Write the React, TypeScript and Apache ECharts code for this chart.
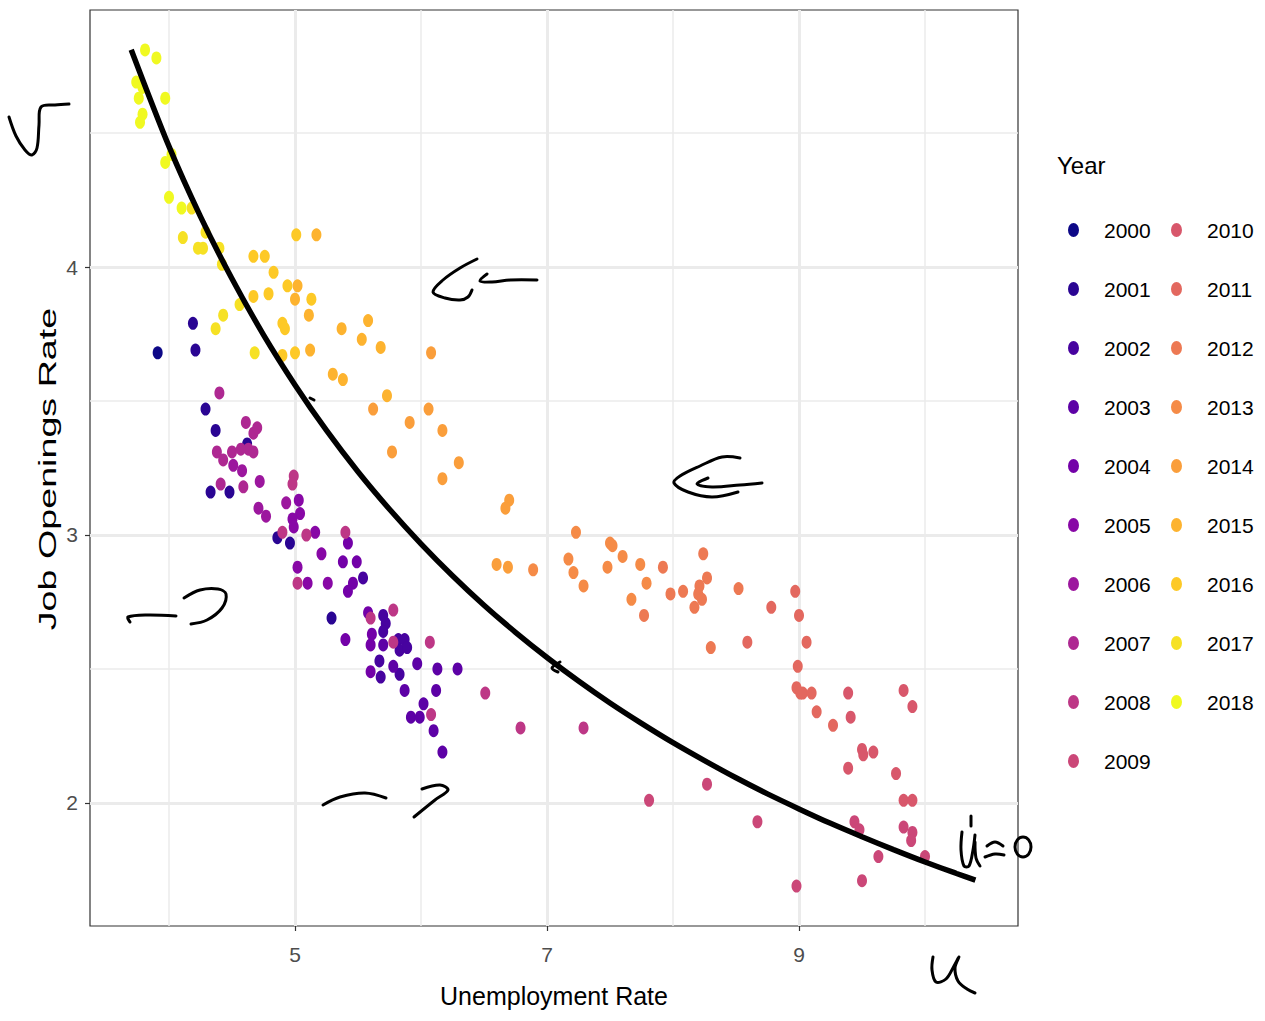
import React, { useEffect, useRef } from "react";
import * as echarts from "echarts";

// ---- data ----
const years = ["2000","2001","2002","2003","2004","2005","2006","2007","2008","2009","2010","2011","2012","2013","2014","2015","2016","2017","2018"];
const yearColors = ["#0D0887","#2A0593","#47039F","#5D01A6","#7301A8","#8808A6","#9C179E","#AE2892","#BD3786","#CB4778","#D8576B","#E3685F","#ED7953","#F58B47","#FA9E3B","#FDB32F","#FDC926","#F6E124","#F0F921"];

const p2000 = [[3.91, 3.68]];
const p2001 = [[4.19,3.79],[4.21,3.69],[4.29,3.47],[4.37,3.39],[4.33,3.16],[4.48,3.16],[4.62,3.34],[4.86,2.99],[4.96,2.97],[5.29,2.69]];
const p2002 = [[5.72,2.67],[5.70,2.64],[5.82,2.61],[5.87,2.61],[5.83,2.57],[5.89,2.58],[5.67,2.53],[5.83,2.48],[5.68,2.47],[5.70,2.70],[5.54,2.84]];
const p2003 = [[5.70,2.59],[5.78,2.51],[5.87,2.42],[5.97,2.52],[6.13,2.50],[6.29,2.50],[6.12,2.42],[6.02,2.37],[5.92,2.32],[5.99,2.32],[6.10,2.27],[6.17,2.19]];
const p2004 = [[5.38,2.90],[5.49,2.90],[5.42,2.97],[5.46,2.82],[5.42,2.79],[5.40,2.61],[5.58,2.71],[5.60,2.59],[5.61,2.63],[5.60,2.49]];
const p2005 = [[5.03,3.13],[5.04,3.08],[4.98,3.06],[4.99,3.03],[5.16,3.01],[5.02,2.88],[5.10,2.82],[5.26,2.82],[5.21,2.93]];
const p2006 = [[4.51,3.26],[4.58,3.24],[4.72,3.20],[4.71,3.10],[4.77,3.07],[4.93,3.12]];
const p2007 = [[4.40,3.53],[4.61,3.42],[4.67,3.38],[4.70,3.40],[4.38,3.31],[4.63,3.32],[4.67,3.31],[4.50,3.31],[4.43,3.28],[4.41,3.19],[4.59,3.18],[4.57,3.32]];
const p2008 = [[4.99,3.22],[4.98,3.19],[4.90,3.01],[5.09,3.00],[5.40,3.01],[5.02,2.82],[5.60,2.69],[5.78,2.72],[5.78,2.60],[6.07,2.60],[6.08,2.33],[6.51,2.41],[6.79,2.28],[7.29,2.28]];
const p2009 = [[7.81,2.01],[8.27,2.07],[8.67,1.93],[8.98,1.69],[9.44,1.93],[9.48,1.90],[9.50,1.71],[9.63,1.80],[9.83,1.91],[9.90,1.89],[9.89,1.86],[10.00,1.80]];
const p2010 = [[9.39,2.41],[9.41,2.32],[9.83,2.42],[9.90,2.36],[9.50,2.20],[9.51,2.18],[9.59,2.19],[9.39,2.13],[9.77,2.11],[9.83,2.01],[9.90,2.01]];
const p2011 = [[8.59,2.60],[8.78,2.73],[8.97,2.79],[9.00,2.70],[9.06,2.60],[8.99,2.51],[8.98,2.43],[9.01,2.41],[9.03,2.41],[9.10,2.41],[9.14,2.34],[9.27,2.29]];
const p2012 = [[7.77,2.70],[7.92,2.88],[7.98,2.78],[8.08,2.79],[8.24,2.93],[8.27,2.84],[8.21,2.81],[8.20,2.78],[8.23,2.76],[8.17,2.73],[8.30,2.58],[8.52,2.80]];
const p2013 = [[6.89,2.87],[7.23,3.01],[7.17,2.91],[7.21,2.86],[7.29,2.81],[7.50,2.97],[7.52,2.96],[7.60,2.92],[7.48,2.88],[7.74,2.89],[7.79,2.82],[7.67,2.76]];
const p2014 = [[5.62,3.47],[6.06,3.47],[6.08,3.68],[5.91,3.42],[6.17,3.39],[5.77,3.31],[6.30,3.27],[6.17,3.21],[6.70,3.13],[6.67,3.10],[6.60,2.89],[6.69,2.88]];
const p2015 = [[5.17,4.12],[5.02,3.93],[5.00,3.88],[5.11,3.82],[5.12,3.69],[5.37,3.77],[5.58,3.80],[5.53,3.73],[5.68,3.70],[5.30,3.60],[5.38,3.58],[5.73,3.52]];
const p2016 = [[4.67,4.04],[4.76,4.04],[4.83,3.98],[4.94,3.93],[4.79,3.90],[4.67,3.89],[4.90,3.79],[4.92,3.77],[4.90,3.67],[5.00,3.68],[5.01,4.12],[5.13,3.88]];
const p2017 = [[4.18,4.22],[4.11,4.11],[4.29,4.13],[4.23,4.07],[4.27,4.07],[4.40,4.07],[4.42,4.01],[4.56,3.86],[4.43,3.82],[4.37,3.77],[4.68,3.68]];
const p2018 = [[3.81,4.81],[3.90,4.78],[3.74,4.69],[3.79,4.67],[3.76,4.63],[3.97,4.63],[3.79,4.57],[3.77,4.54],[4.02,4.42],[3.97,4.39],[4.00,4.26],[4.10,4.22]];
const pointsByYear = [p2000,p2001,p2002,p2003,p2004,p2005,p2006,p2007,p2008,p2009,p2010,p2011,p2012,p2013,p2014,p2015,p2016,p2017,p2018];

// Beveridge curve (u-dot = 0)
const curveU = [3.7, 4.0, 4.25, 4.5, 4.75, 5.0, 5.25, 5.5, 5.75, 6.0, 6.25, 6.5, 6.75, 7.0, 7.25, 7.5, 7.75, 8.0, 8.25, 8.5, 8.75, 9.0, 9.25, 9.5, 9.75, 10.0, 10.25, 10.4];
const curveV = [4.811, 4.450, 4.188, 3.956, 3.747, 3.560, 3.390, 3.236, 3.096, 2.967, 2.848, 2.738, 2.637, 2.543, 2.455, 2.373, 2.297, 2.225, 2.158, 2.094, 2.034, 1.978, 1.924, 1.874, 1.826, 1.780, 1.737, 1.712];

const xTicks = [5, 7, 9];
const xMinor = [4, 6, 8, 10];
const yTicks = [2, 3, 4];
const yMinor = [2.5, 3.5, 4.5];

const FONT = "'Liberation Sans', Arial, Helvetica, sans-serif";

// hand-drawn annotation strokes (pixel positions on the page)
const strokes: number[][][] = [
  [[9,117],[16,136],[25,150],[32,155],[37,148],[39,125],[41,107],[55,105],[69,104]],
  [[477,259],[460,268],[443,280],[433,292],[445,298],[460,300],[468,297],[472,290]],
  [[487,274],[480,281],[492,282],[510,280],[537,280]],
  [[740,458],[722,457],[700,466],[680,476],[674,483],[688,492],[712,497],[738,492]],
  [[708,478],[697,484],[712,487],[740,485],[762,483]],
  [[130,622],[128,617],[147,615],[176,616]],
  [[184,598],[200,590],[218,589],[226,594],[222,608],[207,620],[191,624]],
  [[323,805],[340,797],[365,793],[386,798]],
  [[422,789],[440,785],[448,790],[435,800],[414,817]],
  [[933,957],[932,970],[936,982],[946,979],[954,966],[959,957],[955,968],[958,981],[967,989],[975,993]],
  [[971,816],[971,826]],
  [[962,832],[961,850],[964,866],[969,866],[973,850],[975,835]],
  [[975,842],[976,858],[980,866]],
  [[987,846],[995,842],[1003,846]],
  [[985,857],[995,854],[1004,855]],
  [[560,662],[552,668],[558,672]],
  [[310,398],[314,400]]
];

export default function App() {
  const ref = useRef<HTMLDivElement>(null);
  useEffect(() => {
    document.body.style.margin = "0";
    const chart = echarts.init(ref.current!, null, { renderer: "svg" });
    const xMin = 3.373, xMax = 10.738, yMin = 1.541, yMax = 4.959;
    const scatter = years.map((y, i) => ({
      name: y,
      type: "scatter",
      data: pointsByYear[i],
      symbol: "circle",
      symbolSize: [10, 13],
      itemStyle: { color: yearColors[i], opacity: 1 },
      z: 3,
    }));
    const icon = "path://M0,7A5.5,7,0,1,1,11,7A5.5,7,0,1,1,0,7Z";
    const legendBase = {
      orient: "vertical",
      itemWidth: 51,
      itemHeight: 14,
      itemGap: 35,
      icon,
      selectedMode: false,
      textStyle: { fontSize: 21, lineHeight: 24, fontFamily: FONT, color: "#000" },
    };
    const option: any = {
      animation: false,
      backgroundColor: "#fff",
      title: { text: "Year", left: 1052, top: 148, textStyle: { fontSize: 24, fontWeight: "normal", fontFamily: FONT, color: "#000" } },
      legend: [
        { ...legendBase, left: 1063, top: 213, data: years.slice(0, 10) },
        { ...legendBase, left: 1166, top: 213, data: years.slice(10) },
      ],
      grid: { left: 90, right: 247, top: 10, bottom: 95, show: true, borderColor: "#333333", borderWidth: 1.2, backgroundColor: "#fff" },
      xAxis: [
        {
          type: "value", min: xMin, max: xMax,
          axisLine: { show: false },
          axisTick: { show: true, customValues: xTicks, length: 5, lineStyle: { color: "#333", width: 1.2 } },
          axisLabel: { customValues: xTicks, color: "#4D4D4D", fontSize: 21, fontFamily: FONT, margin: 18 },
          splitLine: { show: true, lineStyle: { color: "#EBEBEB", width: 3 } },
          name: "Unemployment Rate", nameLocation: "middle", nameGap: 57,
          nameTextStyle: { fontSize: 25, fontFamily: FONT, color: "#000" },
        },
        {
          type: "value", min: xMin, max: xMax, position: "bottom",
          axisLine: { show: false },
          axisTick: { show: false, customValues: xMinor },
          axisLabel: { show: false, customValues: xMinor },
          splitLine: { show: true, lineStyle: { color: "#EBEBEB", width: 1.5 } },
        },
      ],
      yAxis: [
        {
          type: "value", min: yMin, max: yMax,
          axisLine: { show: false },
          axisTick: { show: true, customValues: yTicks, length: 5, lineStyle: { color: "#333", width: 1.2 } },
          axisLabel: { customValues: yTicks, color: "#4D4D4D", fontSize: 21, fontFamily: FONT, margin: 12 },
          splitLine: { show: true, lineStyle: { color: "#EBEBEB", width: 3 } },
        },
        {
          type: "value", min: yMin, max: yMax, position: "left",
          axisLine: { show: false },
          axisTick: { show: false, customValues: yMinor },
          axisLabel: { show: false, customValues: yMinor },
          splitLine: { show: true, lineStyle: { color: "#EBEBEB", width: 1.5 } },
        },
      ],
      series: [
        ...scatter,
        {
          name: "curve",
          type: "line",
          data: curveU.map((u, i) => [u, curveV[i]]),
          smooth: 0.3,
          symbol: "none",
          lineStyle: { color: "#000", width: 5.5 },
          z: 5,
          silent: true,
        },
      ],
      graphic: [
        {
          type: "text", x: 48, y: 469, rotation: Math.PI / 2, scaleX: 1.57,
          style: { text: "Job Openings Rate", font: "24px 'Liberation Sans', Arial, sans-serif", fill: "#000", textAlign: "center", textVerticalAlign: "middle" },
        },
        ...strokes.map((pts) => ({
          type: "polyline",
          shape: { points: pts, smooth: 0.35 },
          style: { stroke: "#000", lineWidth: 3, fill: null, lineCap: "round", lineJoin: "round" },
          z: 10,
        })),
        { type: "ellipse", shape: { cx: 1023, cy: 847, rx: 8, ry: 10 }, style: { stroke: "#000", lineWidth: 3, fill: null }, z: 10 },
      ],
    };
    chart.setOption(option);
    return () => chart.dispose();
  }, []);
  return <div ref={ref} style={{ width: 1265, height: 1021 }} />;
}
